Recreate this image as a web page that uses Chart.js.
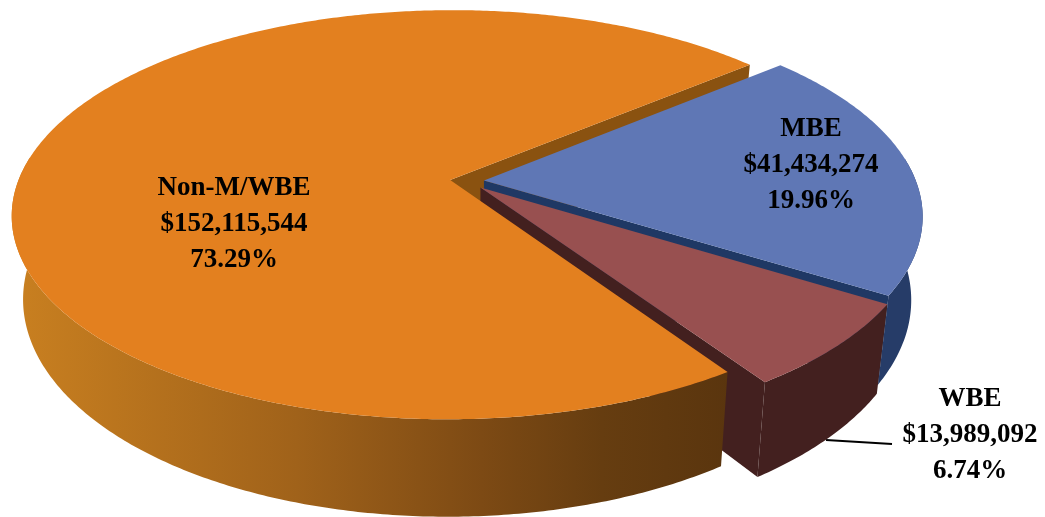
<!DOCTYPE html>
<html>
<head>
<meta charset="utf-8">
<style>
  html, body { margin: 0; padding: 0; background: #fff; }
  canvas { display: block; }
</style>
<script src="https://cdn.jsdelivr.net/npm/chart.js@4"></script>
</head>
<body>
<canvas id="pie" width="1045" height="517"></canvas>
<script>
const categories = ["MBE", "WBE", "Non-M/WBE"];
const amounts = [41434274, 13989092, 152115544];
const amountLabels = ["$41,434,274", "$13,989,092", "$152,115,544"];
const percentLabels = ["19.96%", "6.74%", "73.29%"];
const topColors = ["#5f77b5", "#985050", "#e3801f"];
const wallColors = ["#263c68", "#43201f", "#8a5210"];
const faceColors = ["#1f3864", "#43201f", "#8a5210"];

// projection of the flat pie into the tilted 3d view
const view = { cx: 466, cy: 181, rx: 432, ry: 199, depth: 81, persp: 0.17, taper: 0.025 };

function project(u, v, z) {
    const s = 1 / (1 - view.persp * v);
    return {
        x: view.cx + view.rx * u * s * (1 - view.taper * z),
        y: view.cy + (view.ry * v + view.depth * z) * s
    };
}

function trace(ctx, pts) {
    ctx.beginPath();
    pts.forEach((p, i) => i ? ctx.lineTo(p.x, p.y) : ctx.moveTo(p.x, p.y));
    ctx.closePath();
}

function rimAngles(a0, a1) {
    const out = [];
    const n = Math.ceil((a1 - a0) / 0.01);
    for (let i = 0; i <= n; i++) out.push(a0 + (a1 - a0) * i / n);
    return out;
}

// apex of a slice in disc units, pushed out along its middle angle
function apexOf(arc) {
    const mid = (arc.startAngle + arc.endAngle) / 2;
    const off = arc.options.offset / view.rx;
    return { u: off * Math.cos(mid), v: off * Math.sin(mid) };
}

function drawTop(ctx, arc, color) {
    const a = apexOf(arc);
    const pts = [project(a.u, a.v, 0)];
    rimAngles(arc.startAngle, arc.endAngle).forEach(t => {
        pts.push(project(a.u + Math.cos(t), a.v + Math.sin(t), 0));
    });
    trace(ctx, pts);
    ctx.fillStyle = color;
    ctx.fill();
}

function drawRim(ctx, arc, fill) {
    const a = apexOf(arc);
    const ts = rimAngles(arc.startAngle, arc.endAngle)
        .filter(t => Math.sin(t) > -0.12);
    const upper = ts.map(t => project(a.u + Math.cos(t), a.v + Math.sin(t), 0));
    const lower = ts.map(t => project(a.u + Math.cos(t), a.v + Math.sin(t), 1)).reverse();
    trace(ctx, upper.concat(lower));
    ctx.fillStyle = fill;
    ctx.fill();
}

function drawFace(ctx, arc, angle, color) {
    const a = apexOf(arc);
    const eu = a.u + Math.cos(angle), ev = a.v + Math.sin(angle);
    trace(ctx, [project(a.u, a.v, 0), project(eu, ev, 0), project(eu, ev, 1), project(a.u, a.v, 1)]);
    ctx.fillStyle = color;
    ctx.fill();
}

const pie3d = {
    id: 'pie3d',
    beforeDatasetDraw(chart) {
        const ctx = chart.ctx;
        const [mbe, wbe, non] = chart.getDatasetMeta(0).data;

        ctx.save();
        // leader line for the WBE label
        ctx.strokeStyle = '#000';
        ctx.lineWidth = 2;
        ctx.beginPath();
        ctx.moveTo(826, 440);
        ctx.lineTo(892, 444);
        ctx.stroke();

        // back to front: orange cut face, blue, red, then the rest of orange
        drawFace(ctx, non, non.endAngle, faceColors[2]);

        drawRim(ctx, mbe, wallColors[0]);
        drawFace(ctx, mbe, mbe.endAngle, faceColors[0]);
        drawTop(ctx, mbe, topColors[0]);

        drawRim(ctx, wbe, wallColors[1]);
        drawFace(ctx, wbe, wbe.endAngle, faceColors[1]);
        drawTop(ctx, wbe, topColors[1]);

        const g = ctx.createLinearGradient(20, 0, 730, 0);
        g.addColorStop(0, '#c87f20');
        g.addColorStop(0.39, '#a0621a');
        g.addColorStop(0.65, '#7d4a14');
        g.addColorStop(0.82, '#663d10');
        g.addColorStop(1, '#5a350e');
        drawRim(ctx, non, g);
        drawTop(ctx, non, topColors[2]);
        ctx.restore();
        return false;
    },
    afterDatasetsDraw(chart) {
        const ctx = chart.ctx;
        const spots = [[811, 129], [970, 399], [234, 188]];
        ctx.save();
        ctx.fillStyle = '#000';
        ctx.font = 'bold 27px "Liberation Serif"';
        ctx.textAlign = 'center';
        ctx.textBaseline = 'middle';
        categories.forEach((name, i) => {
            const [x, y] = spots[i];
            ctx.fillText(name, x, y);
            ctx.fillText(amountLabels[i], x, y + 36);
            ctx.fillText(percentLabels[i], x, y + 72);
        });
        ctx.restore();
    }
};

new Chart(document.getElementById('pie').getContext('2d'), {
    type: 'pie',
    data: {
        labels: categories,
        datasets: [{
            data: amounts,
            backgroundColor: topColors,
            borderWidth: 0,
            offset: [18, 20, 16]
        }]
    },
    options: {
        responsive: false,
        devicePixelRatio: 1,
        animation: false,
        rotation: 50,
        plugins: { legend: { display: false }, tooltip: { enabled: false } }
    },
    plugins: [pie3d]
});
</script>
</body>
</html>
